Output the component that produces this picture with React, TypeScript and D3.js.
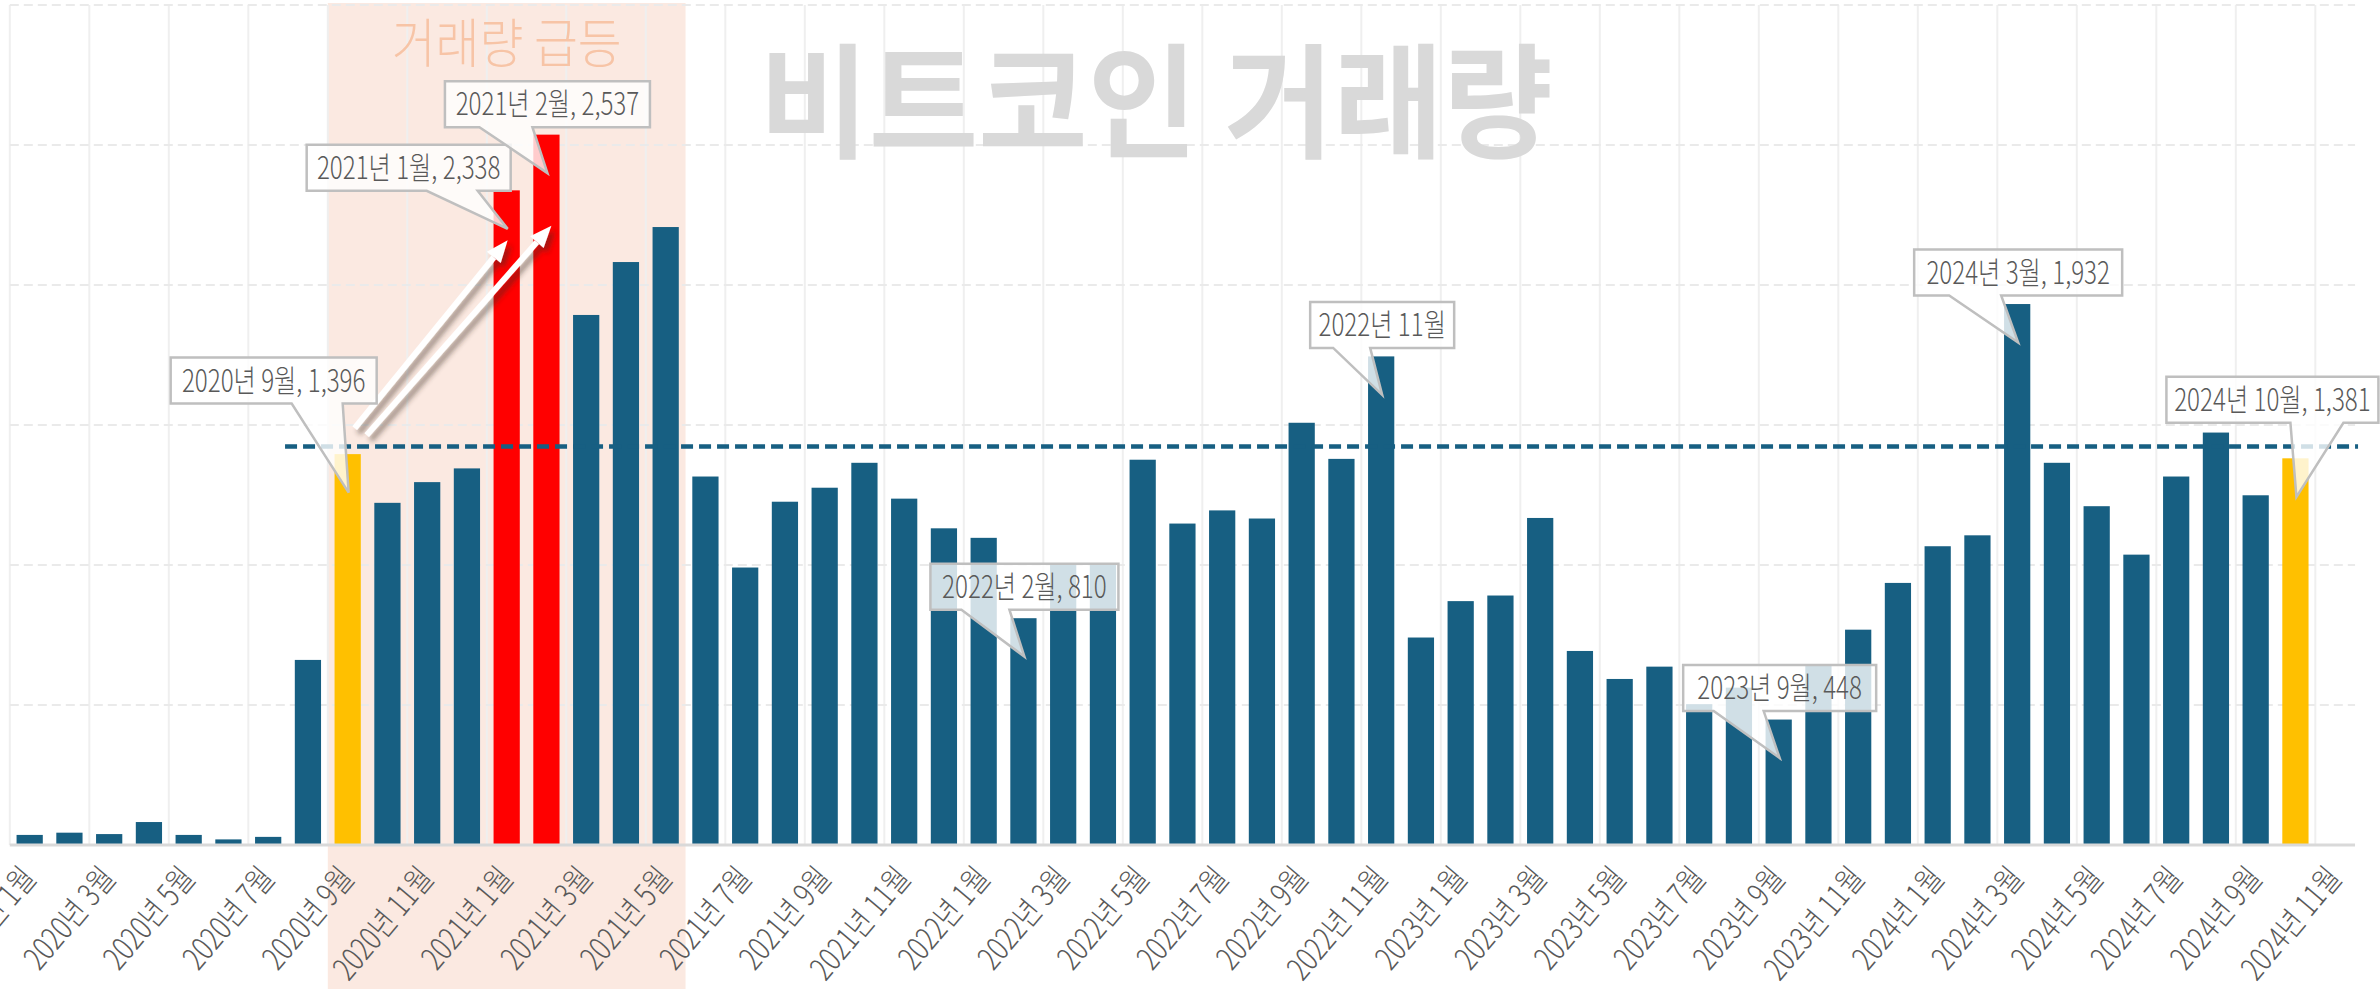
import React from 'react';
import * as d3 from 'd3';

// months on the category axis (2024년 11월 has a slot but no bar)
const categories = [
  '2020년 1월', '2020년 2월', '2020년 3월', '2020년 4월', '2020년 5월', '2020년 6월',
  '2020년 7월', '2020년 8월', '2020년 9월', '2020년 10월', '2020년 11월', '2020년 12월',
  '2021년 1월', '2021년 2월', '2021년 3월', '2021년 4월', '2021년 5월', '2021년 6월',
  '2021년 7월', '2021년 8월', '2021년 9월', '2021년 10월', '2021년 11월', '2021년 12월',
  '2022년 1월', '2022년 2월', '2022년 3월', '2022년 4월', '2022년 5월', '2022년 6월',
  '2022년 7월', '2022년 8월', '2022년 9월', '2022년 10월', '2022년 11월', '2022년 12월',
  '2023년 1월', '2023년 2월', '2023년 3월', '2023년 4월', '2023년 5월', '2023년 6월',
  '2023년 7월', '2023년 8월', '2023년 9월', '2023년 10월', '2023년 11월', '2023년 12월',
  '2024년 1월', '2024년 2월', '2024년 3월', '2024년 4월', '2024년 5월', '2024년 6월',
  '2024년 7월', '2024년 8월', '2024년 9월', '2024년 10월', '2024년 11월',
];

const volumes2020 = [36, 44, 39, 82, 36, 20, 29, 661, 1396, 1222, 1296, 1345];
const volumes2021 = [2338, 2537, 1893, 2082, 2207, 1316, 991, 1226, 1276, 1365, 1237, 1131];
const volumes2022 = [1097, 810, 1005, 1005, 1376, 1148, 1195, 1166, 1508, 1379, 1745, 741];
const volumes2023 = [871, 891, 1168, 693, 593, 637, 503, 562, 448, 640, 769, 936];
const volumes2024 = [1067, 1106, 1932, 1365, 1210, 1037, 1316, 1473, 1249, 1381, null];
const volumes: (number | null)[] = [
  ...volumes2020, ...volumes2021, ...volumes2022, ...volumes2023, ...volumes2024,
];

const averageVolume = 1423;
const averageFrom = '2020년 8월';
const yTicks = [0, 500, 1000, 1500, 2000, 2500, 3000];

const yellowMonths = ['2020년 9월', '2024년 10월'];
const redMonths = ['2021년 1월', '2021년 2월'];
const surgeStart = '2020년 9월';
const surgeEnd = '2021년 5월';
const surgeLabel = '거래량 급등';
const title = '비트코인 거래량';

const calloutMonths = [
  '2020년 9월', '2021년 1월', '2021년 2월', '2022년 2월',
  '2022년 11월', '2023년 9월', '2024년 3월', '2024년 10월',
];
const calloutTexts = [
  '2020년 9월, 1,396', '2021년 1월, 2,338', '2021년 2월, 2,537', '2022년 2월, 810',
  '2022년 11월', '2023년 9월, 448', '2024년 3월, 1,932', '2024년 10월, 1,381',
];

// layout of each callout box relative to its pointer tip
const calloutLayout = [
  { dx: -75, w: 206, p: [-57, -6], up: 89 },
  { dx: -99, w: 204, p: [-81, -30], up: 38 },
  { dx: 0, w: 205, p: [-68, -15], up: 46 },
  { dx: 0, w: 188, p: [-63, -15], up: 47 },
  { dx: 0, w: 144, p: [-49, -12], up: 47 },
  { dx: 0, w: 193, p: [-66, -16], up: 47 },
  { dx: 0, w: 208, p: [-69, -17], up: 47 },
  { dx: -24, w: 212, p: [-6, 47], up: 74 },
];

const W = 2380;
const H = 989;
const BLUE = '#175F82';
const FONT = '"Noto Sans CJK KR", "Noto Sans", sans-serif';

export default function App() {
  const x = d3.scaleBand<string>().domain(categories).range([9.8, 9.8 + 59 * 39.75]).padding(0);
  const y = d3.scaleLinear().domain([0, 3000]).range([845, 5]);
  const step = x.step();
  const barW = step * 0.66;
  const cx = (m: string) => (x(m) as number) + step / 2;
  const xEnd = x.range()[1];

  const barColor = (m: string) =>
    yellowMonths.includes(m) ? '#FFC000' : redMonths.includes(m) ? '#FF0000' : BLUE;

  const bandX0 = x(surgeStart) as number;
  const bandX1 = (x(surgeEnd) as number) + step;
  const bandMid = (bandX0 + bandX1) / 2;

  // arrows from the Sept 2020 callout to the two red bars
  const sep = categories[8];
  const arrows = [
    { x1: cx(sep) + 7, y1: y(volumes[8] as number) - 26, x2: cx('2021년 1월') + 1, y2: y(volumes[12] as number) + 50 },
    { x1: cx(sep) + 19, y1: y(volumes[8] as number) - 19, x2: cx('2021년 2월') + 5, y2: y(volumes[13] as number) + 91 },
  ];

  return (
    <svg width={W} height={H} style={{ position: 'absolute', left: 0, top: 0, background: '#fff' }}>
      <defs>
        <filter id="arrowShadow" x="-20%" y="-20%" width="140%" height="140%">
          <feDropShadow dx="4" dy="5" stdDeviation="2.5" floodColor="#3a2a20" floodOpacity="0.45" />
        </filter>
      </defs>

      {/* surge band */}
      <rect x={bandX0} y={3} width={bandX1 - bandX0} height={H - 3} fill="#FBE9E1" />

      {/* vertical gridlines every two months */}
      {categories.filter((_, i) => i % 2 === 0).map(m => (
        <line key={'v' + m} x1={x(m)} x2={x(m)} y1={y(3000)} y2={y(0)} stroke="#EFEFEF" strokeWidth={2} />
      ))}
      {/* horizontal dashed gridlines */}
      {yTicks.slice(1).map(t => (
        <line key={'h' + t} x1={x.range()[0]} x2={xEnd} y1={y(t)} y2={y(t)}
          stroke="#EAEAEA" strokeWidth={2} strokeDasharray="9,5" />
      ))}

      {/* band label */}
      <text fill="#F7C4A6" fontFamily={FONT} fontSize={53} fontWeight={300} textAnchor="middle"
        transform={`translate(${bandMid},63) scale(0.9,1)`}>
        {surgeLabel}
      </text>

      {/* title */}
      <text fill="#D9D9D9" fontFamily={FONT} fontSize={124} fontWeight={700} textAnchor="middle"
        transform={`translate(1156,148) scale(0.96,1)`}>
        {title}
      </text>

      {/* bars */}
      {categories.map((m, i) => volumes[i] == null ? null : (
        <rect key={m} x={cx(m) - barW / 2} y={y(volumes[i] as number)} width={barW}
          height={y(0) - y(volumes[i] as number)} fill={barColor(m)} />
      ))}

      {/* axis line */}
      <line x1={x.range()[0]} x2={xEnd} y1={y(0)} y2={y(0)} stroke="#D9D9D9" strokeWidth={3} />

      {/* average line */}
      <line x1={(x(averageFrom) as number) - 3} x2={xEnd + 3} y1={y(averageVolume)} y2={y(averageVolume)}
        stroke={BLUE} strokeWidth={4.5} strokeDasharray="12,6" />

      {/* arrows */}
      {arrows.map((a, i) => {
        const ang = Math.atan2(a.y2 - a.y1, a.x2 - a.x1);
        const hl = 22, hw = 9;
        const bx = a.x2 - hl * Math.cos(ang), by = a.y2 - hl * Math.sin(ang);
        const nx = -Math.sin(ang), ny = Math.cos(ang);
        return (
          <g key={'a' + i} filter="url(#arrowShadow)">
            <line x1={a.x1} y1={a.y1} x2={bx} y2={by} stroke="#fff" strokeWidth={6} />
            <polygon points={`${a.x2},${a.y2} ${bx + nx * hw},${by + ny * hw} ${bx - nx * hw},${by - ny * hw}`} fill="#fff" />
          </g>
        );
      })}

      {/* callouts */}
      {calloutMonths.map((m, k) => {
        const i = categories.indexOf(m);
        const L = calloutLayout[k];
        const tx = cx(m) + 1;
        const ty = y(volumes[i] as number) + 38.5;
        const bottom = ty - L.up;
        const top = bottom - 46;
        const left = tx + L.dx - L.w / 2;
        const right = left + L.w;
        const d = `M${left},${top} H${right} V${bottom} H${tx + L.p[1]} L${tx},${ty} L${tx + L.p[0]},${bottom} H${left} Z`;
        const mid = (left + right) / 2;
        return (
          <g key={'c' + m}>
            <path d={d} fill="#fff" fillOpacity={0.8} stroke="#BFBFBF" strokeWidth={2.5} strokeLinejoin="miter" />
            <text fill="#595959" fontFamily={FONT} fontSize={31} fontWeight={300} textAnchor="middle"
              transform={`translate(${mid},${top + 34}) scale(0.78,1)`}>
              {calloutTexts[k]}
            </text>
          </g>
        );
      })}

      {/* x axis labels */}
      {categories.filter((_, i) => i % 2 === 0).map(m => (
        <text key={'l' + m} fill="#595959" fontFamily={FONT} fontSize={32} fontWeight={300} textAnchor="end"
          transform={`translate(${cx(m) + 8},${y(0) + 34}) rotate(-50) scale(0.8,1)`}>
          {m}
        </text>
      ))}
    </svg>
  );
}
